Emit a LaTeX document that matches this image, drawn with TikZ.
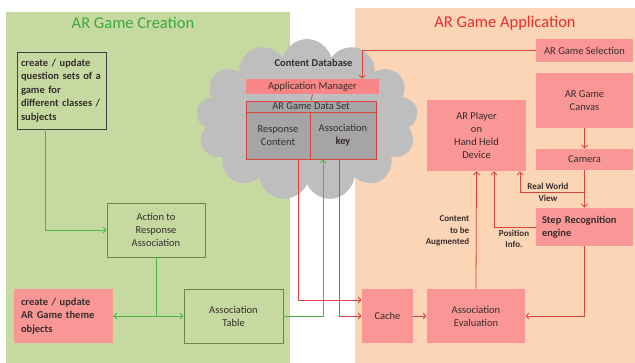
\documentclass[tikz,border=0pt]{standalone}
\usepackage{fontspec}
\setmainfont{Carlito}
\usetikzlibrary{shapes.symbols,arrows.meta}
\definecolor{panelgreen}{RGB}{197,217,160}
\definecolor{panelorange}{RGB}{251,213,181}
\definecolor{boxpink}{RGB}{250,150,150}
\definecolor{linered}{RGB}{218,70,62}
\definecolor{linegreen}{RGB}{80,180,70}
\definecolor{boxgreen}{RGB}{105,135,75}
\definecolor{titlegreen}{RGB}{60,170,60}
\definecolor{titlered}{RGB}{235,45,45}
\definecolor{cloudgray}{RGB}{190,190,190}
\definecolor{cellgray}{RGB}{165,165,165}
\definecolor{textdark}{RGB}{55,45,45}
\begin{document}
\begin{tikzpicture}[x=1pt, y=-1pt, thick, text=textdark,
    font=\fontsize{10.5}{13}\selectfont,
    pinkbox/.style={rectangle, fill=boxpink, align=center, inner sep=0pt},
    greenbox/.style={rectangle, draw=boxgreen, align=center, inner sep=0pt},
    cell/.style={rectangle, draw=linered, fill=cellgray, align=center, inner sep=0pt},
    lbl/.style={font=\fontsize{9}{11.5}\selectfont\bfseries, align=center},
    rline/.style={draw=linered},
    rarrow/.style={rline, -{Straight Barb[length=3pt,width=6pt]}},
    gline/.style={draw=linegreen},
    garrow/.style={gline, -{Straight Barb[length=3pt,width=6pt]}}]
  \useasboundingbox (0,0) rectangle (635,363);
  % panels
  \fill[panelgreen] (6,12) rectangle (290,363);
  \fill[panelorange] (355,8) rectangle (635,363);
  \node[font=\fontsize{16.5}{18}\selectfont, text=titlegreen] (creation) at (133,23) {AR Game Creation};
  \node[font=\fontsize{16.5}{18}\selectfont, text=titlered] (application) at (505,23) {AR Game Application};
  % content database
  \node[cloud, cloud puffs=13, fill=cloudgray, minimum width=222pt, minimum height=162pt] (db) at (307,120) {};
  \node[font=\fontsize{10.5}{13}\selectfont\bfseries] (dbtitle) at (313.5,63) {Content Database};
  \node[pinkbox, fill=boxpink!90!red, minimum width=133pt, minimum height=15pt] (appmgr) at (312.5,86.5) {Application Manager};
  \node[cell, minimum width=130pt, minimum height=11pt] (dataset) at (311,106.5) {AR Game Data Set};
  \node[cell, minimum width=64pt, minimum height=47pt] (resp) at (278,135.5) {Response\\Content};
  \node[cell, minimum width=66pt, minimum height=47pt] (key) at (343,135.5) {Association\\\textbf{key}};
  % creation side
  \node[rectangle, draw=black!75, inner sep=0pt, minimum width=89pt, minimum height=77pt,
    text width=81pt, align=left, font=\fontsize{10.5}{13.5}\selectfont\bfseries] (question) at (61.5,90.5)
    {create / update\\question sets of a\\game for\\different classes /\\subjects};
  \node[greenbox, minimum width=98pt, minimum height=54pt] (action) at (156,230) {Action to\\Response\\Association};
  \node[pinkbox, minimum width=99pt, minimum height=54pt, text width=85pt, align=left,
    font=\fontsize{10.5}{13.5}\selectfont\bfseries] (theme) at (63.5,316) {create / update\\AR Game theme\\objects};
  \node[greenbox, minimum width=99pt, minimum height=54pt] (table) at (233.5,316) {Association\\Table};
  % application side
  \node[pinkbox, minimum width=97pt, minimum height=23pt] (select) at (584.5,50.5) {AR Game Selection};
  \node[pinkbox, minimum width=97pt, minimum height=55pt] (canvas) at (584.5,100.5) {AR Game\\Canvas};
  \node[pinkbox, minimum width=97pt, minimum height=21pt] (camera) at (584.5,159.5) {Camera};
  \node[pinkbox, minimum width=99pt, minimum height=71pt] (player) at (476.5,135.5) {AR Player\\on\\Hand Held\\Device};
  \node[pinkbox, minimum width=97pt, minimum height=38pt, text width=85pt, align=left,
    font=\fontsize{10.5}{13}\selectfont\bfseries] (step) at (584.5,227) {Step Recognition\\engine};
  \node[pinkbox, minimum width=51pt, minimum height=54pt] (cache) at (387.5,316) {Cache};
  \node[pinkbox, minimum width=98pt, minimum height=54pt] (eval) at (476,316) {Association\\Evaluation};
  \node[lbl, align=right, anchor=east] (augment) at (473,231) {Content\\to be\\Augmented};
  \node[lbl] (posinfo) at (514,239) {Position\\Info.};
  \node[lbl] (rwview) at (548,192.5) {Real World\\View};
  \coordinate (split) at (action.south |- theme.east);
  \coordinate (rwturn) at (camera.south |- rwview.center);
  % green connectors
  \draw[garrow] ([xshift=-16.5pt]question.south) |- (action.west);
  \draw[gline] (action.south) -- (split);
  \draw[garrow] (split) -- (theme.east);
  \draw[garrow] (split) -- (table.west);
  \draw[garrow] (table.east) -| ([xshift=-20pt]key.south);
  % red connectors
  \draw[rarrow] (select.west) -| ([xshift=49.5pt]appmgr.north);
  \draw[rline] (appmgr.south) -- (dataset.north);
  \draw[rarrow] ([xshift=20pt]resp.south) |- ([yshift=16pt]cache.west);
  \draw[rarrow] ([xshift=-4pt]key.south) |- (cache.west);
  \draw[rarrow] (cache) -- (eval);
  \draw[rarrow] (canvas) -- (camera);
  \draw[rarrow] (camera) -- (step);
  \draw[rarrow] (rwturn) -| ([xshift=43.5pt]player.south);
  \draw[rarrow] (step.west) -| ([xshift=17.5pt]player.south);
  \draw[rarrow] (step.south) |- (eval.east);
  \draw[rarrow] (eval.north) -- (player.south);
\end{tikzpicture}
\end{document}
